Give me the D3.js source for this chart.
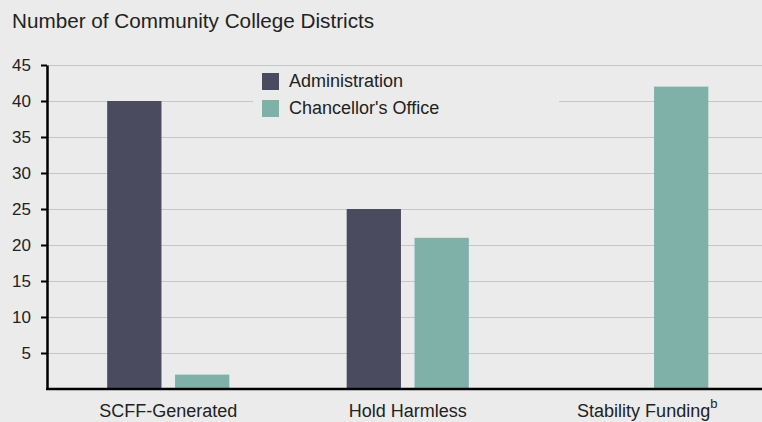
<!DOCTYPE html>
<html><head><meta charset="utf-8">
<script src="https://cdn.jsdelivr.net/npm/d3@7"></script>
<style>
html,body{margin:0;padding:0;background:#ebebeb;}
text{font-family:"Liberation Sans",Arial,sans-serif;fill:#222;}
</style></head>
<body>
<svg id="c" width="762" height="422"></svg>
<script>
const categories = ["SCFF-Generated", "Hold Harmless", "Stability Funding"];
const seriesNames = ["Administration", "Chancellor's Office"];
const administration = [40, 25, 0];
const chancellorsOffice = [2, 21, 42];
const yTicks = [5, 10, 15, 20, 25, 30, 35, 40, 45];
const colors = ["#4b4b60", "#7fb1a8"];

(function(){
const svg = d3.select("#c");
svg.append("rect").attr("width",762).attr("height",422).attr("fill","#ebebeb");

const mLeft = 47, mRight = 762, mTop = 65, mBottom = 389;
const y = d3.scaleLinear().domain([0,45]).range([mBottom, mTop]);
const x0 = d3.scaleBand().domain(categories).range([mLeft+1.5, mRight+5]).paddingInner(0.49).paddingOuter(0.245);
const x1 = d3.scaleBand().domain(seriesNames).range([0, x0.bandwidth()]).paddingInner(0.2);

// gridlines
svg.append("g").selectAll("line").data(yTicks).join("line")
  .attr("x1", mLeft).attr("x2", mRight)
  .attr("y1", d=>Math.round(y(d))+0.5).attr("y2", d=>Math.round(y(d))+0.5)
  .attr("stroke","#c6c6c6").attr("stroke-width",1.2);

// legend background covering gridline
svg.append("rect").attr("x",253).attr("y",67).attr("width",306).attr("height",68).attr("fill","#ebebeb");

// bars
const data = categories.map((c,i)=>({cat:c, vals:[administration[i], chancellorsOffice[i]]}));
const g = svg.append("g");
data.forEach(d=>{
  d.vals.forEach((v,j)=>{
    if(v<=0) return;
    g.append("rect")
      .attr("x", x0(d.cat)+x1(seriesNames[j]))
      .attr("y", y(v))
      .attr("width", x1.bandwidth())
      .attr("height", y(0)-y(v))
      .attr("fill", colors[j]);
  });
});

// y axis
const yAxis = d3.axisLeft(y).tickValues(yTicks).tickSize(6).tickSizeOuter(0);
const ya = svg.append("g").attr("transform",`translate(${mLeft},0)`).call(yAxis);
ya.select(".domain").attr("stroke","#000").attr("stroke-width",2.5);
ya.selectAll(".tick line").attr("stroke","#000").attr("stroke-width",2);
ya.selectAll(".tick text").attr("x",-16).attr("font-size",17).attr("fill","#222")
  .attr("font-family","Liberation Sans, Arial, sans-serif");

// x axis line
svg.append("line").attr("x1",mLeft-1).attr("x2",mRight).attr("y1",mBottom).attr("y2",mBottom)
  .attr("stroke","#000").attr("stroke-width",2.5);

// x labels
const xl = svg.append("g");
categories.forEach((c,i)=>{
  const t = xl.append("text").attr("x", x0(c)+x0.bandwidth()/2).attr("y", 417)
    .attr("text-anchor","middle").attr("font-size",18).text(c);
  if(i===2){
    t.append("tspan").attr("dy",-9).attr("font-size",13).text("b");
  }
});

// title
svg.append("text").attr("x",12).attr("y",28).attr("font-size",20.7).text("Number of Community College Districts");

// legend
const lg = svg.append("g");
seriesNames.forEach((s,i)=>{
  lg.append("rect").attr("x",262).attr("y",73+i*27).attr("width",17).attr("height",17).attr("fill",colors[i]);
  lg.append("text").attr("x",289).attr("y",87+i*26.5).attr("font-size",18).text(s);
});
})();
</script>
</body></html>
